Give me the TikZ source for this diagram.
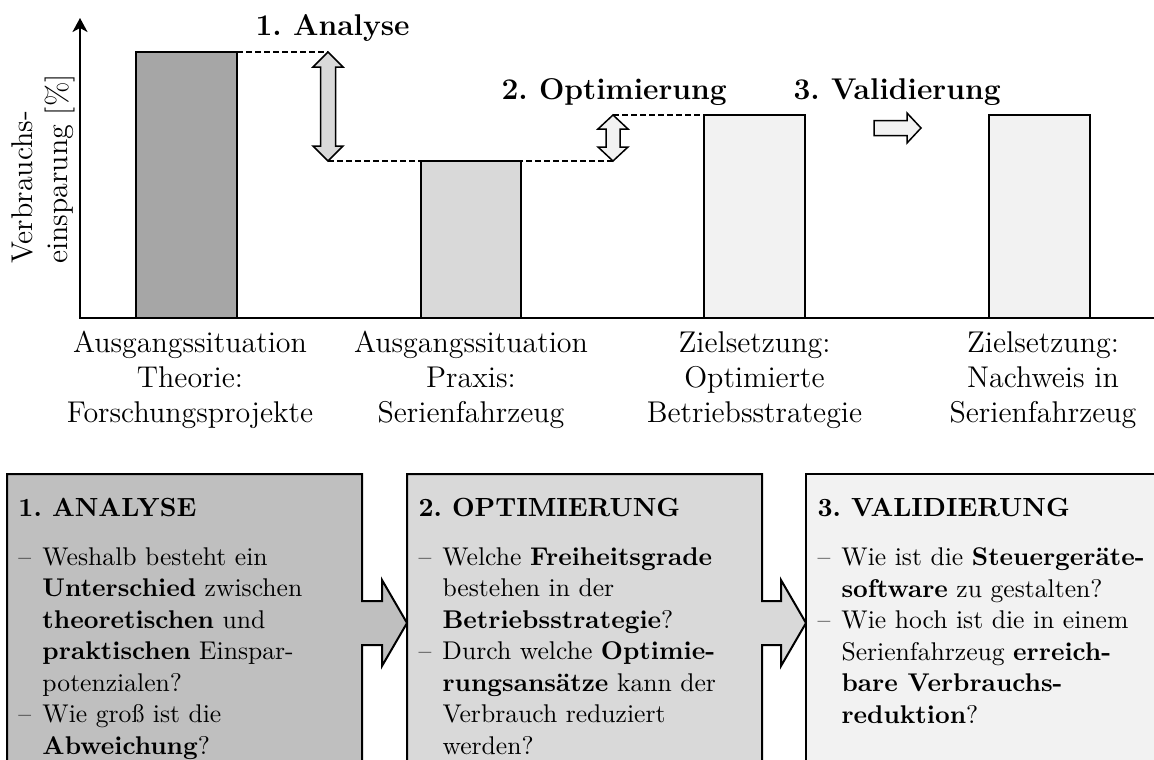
\documentclass[tikz,border=0pt]{standalone}
\usepackage{fontspec}
\usetikzlibrary{arrows.meta}
\definecolor{g65}{gray}{0.65}
\definecolor{g75}{gray}{0.75}
\definecolor{g85}{gray}{0.85}
\definecolor{g95}{gray}{0.95}
% list helpers: dash label and hanging indent
\newcommand{\qdash}{\makebox[9.6pt][l]{–}}
\newcommand{\qind}{\hspace*{9.6pt}}
\begin{document}
\begin{tikzpicture}[x=0.4pt,y=-0.4pt,
  bar/.style={draw=black,line width=0.8pt},
  guide/.style={line width=0.5pt,dash pattern=on 2.4pt off 1.2pt},
  blockarrow/.style={draw=black,line width=0.6pt,line join=miter},
  panel/.style={draw=black,line width=0.8pt,line join=miter},
  phase/.style={font=\fontsize{12}{14}\selectfont\bfseries,inner sep=0pt,anchor=base west},
  cat/.style={font=\fontsize{12}{14}\selectfont,align=center,inner sep=0pt,anchor=north},
  qtext/.style={font=\fontsize{10.25}{12.6}\selectfont,align=left,inner sep=0pt,anchor=north west},
  qhead/.style={font=\fontsize{10.5}{12.6}\selectfont\bfseries,inner sep=0pt,anchor=base west},
]
\useasboundingbox (0,0) rectangle (1154,760);
\clip (0,0) rectangle (1154,760);

% bars
\draw[bar,fill=g65] (136,52) rectangle (237,318);
\draw[bar,fill=g85] (421,161) rectangle (521,318);
\draw[bar,fill=g95] (704,115) rectangle (805,318);
\draw[bar,fill=g95] (989,115) rectangle (1090,318);

% axes
\draw[line width=0.9pt,line join=miter,-{Stealth[length=5.6pt,width=6pt,inset=1.6pt]}]
  (1154,318) -- (80,318) -- (80,18);

% guide points
\coordinate (b1top) at (237,52);
\coordinate (a1top) at (328,52);
\coordinate (a1bot) at (328,161);
\coordinate (a2bot) at (613,161);
\coordinate (a2top) at (613,115);
\coordinate (b3top) at (704,115);

\draw[guide] (b1top) -- (a1top);
\draw[guide] (a1bot) -- (a2bot);
\draw[guide] (a2top) -- (b3top);

% double arrows and step arrow
\draw[blockarrow,fill=g85] (328,52) -- (343,67) -- (335.5,67) -- (335.5,146) -- (343,146)
  -- (328,161) -- (313,146) -- (320.5,146) -- (320.5,67) -- (313,67) -- cycle;
\draw[blockarrow,fill=g95] (613,115) -- (628,129) -- (620,129) -- (620,147) -- (628,147)
  -- (613,161) -- (598,147) -- (606,147) -- (606,129) -- (598,129) -- cycle;
\draw[blockarrow,fill=g95] (874,120.5) -- (907,120.5) -- (907,113) -- (921,128)
  -- (907,143) -- (907,135.5) -- (874,135.5) -- cycle;

% phase labels
\node[phase] (p1) at (255,35) {1.\ Analyse};
\node[phase] (p2) at (501,99) {2.\ Optimierung};
\node[phase] (p3) at (793,99) {3.\ Validierung};

% axis labels
\node[font=\fontsize{12}{14}\selectfont,align=left,rotate=90,inner sep=0pt] (ylab) at (43,169)
  {Verbrauchs-\\einsparung [\%]};
\node[cat] (c1) at (190,331) {Ausgangssituation\\Theorie:\\Forschungsprojekte};
\node[cat] (c2) at (471,331) {Ausgangssituation\\Praxis:\\Serienfahrzeug};
\node[cat] (c3) at (754.5,331) {Zielsetzung:\\Optimierte\\Betriebsstrategie};
\node[cat] (c4) at (1043,331) {Zielsetzung:\\Nachweis in\\Serienfahrzeug};

% phase panels
\draw[panel,fill=g75] (7,474) -- (362,474) -- (362,601) -- (382,601) -- (382,580) -- (407,623)
  -- (382,666) -- (382,645) -- (362,645) -- (362,790) -- (7,790) -- cycle;
\draw[panel,fill=g85] (407,474) -- (762,474) -- (762,601) -- (781,601) -- (781,580) -- (806,623)
  -- (781,666) -- (781,645) -- (762,645) -- (762,790) -- (407,790) -- cycle;
\draw[panel,fill=g95] (806,474) rectangle (1165,790);

\node[qhead] (h1) at (18,516) {1.\ ANALYSE};
\node[qhead] (h2) at (418,516) {2.\ OPTIMIERUNG};
\node[qhead] (h3) at (817,516) {3.\ VALIDIERUNG};

\node[qtext] (t1) at (18,547.2) {%
  \qdash Weshalb besteht ein\\
  \qind\textbf{Unterschied} zwischen\\
  \qind\textbf{theoretischen} und\\
  \qind\textbf{praktischen} Einspar-\\
  \qind potenzialen?\\
  \qdash Wie groß ist die\\
  \qind\textbf{Abweichung}?};
\node[qtext] (t2) at (418,547.2) {%
  \qdash Welche \textbf{Freiheitsgrade}\\
  \qind bestehen in der\\
  \qind\textbf{Betriebsstrategie}?\\
  \qdash Durch welche \textbf{Optimie-}\\
  \qind\textbf{rungsansätze} kann der\\
  \qind Verbrauch reduziert\\
  \qind werden?};
\node[qtext] (t3) at (817,547.2) {%
  \qdash Wie ist die \textbf{Steuergeräte-}\\
  \qind\textbf{software} zu gestalten?\\
  \qdash Wie hoch ist die in einem\\
  \qind Serienfahrzeug \textbf{erreich-}\\
  \qind\textbf{bare Verbrauchs-}\\
  \qind\textbf{reduktion}?};
\end{tikzpicture}
\end{document}
